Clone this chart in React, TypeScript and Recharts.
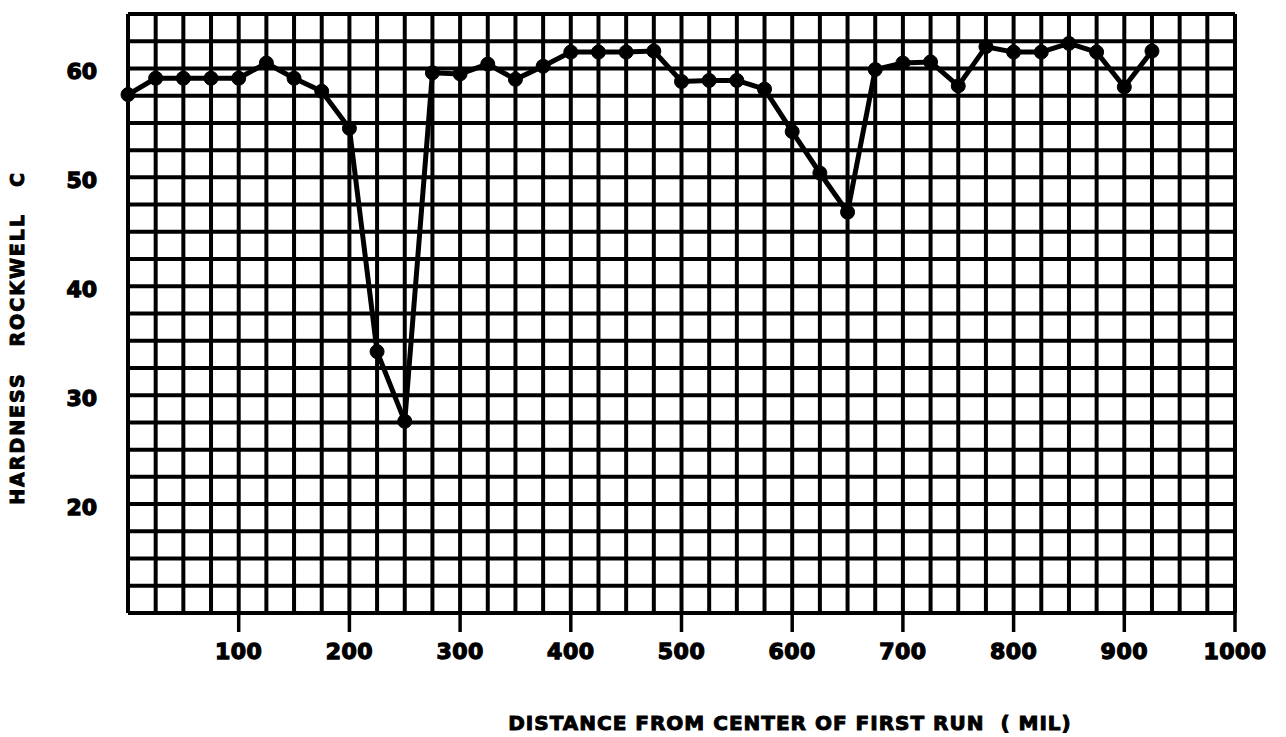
import React from 'react';
import { LineChart, Line, XAxis, YAxis, CartesianGrid, Label } from 'recharts';

const distance = [0, 25, 50, 75, 100, 125, 150, 175, 200, 225, 250, 275, 300, 325, 350, 375, 400, 425, 450, 475, 500, 525, 550, 575, 600, 625, 650, 675, 700, 725, 750, 775, 800, 825, 850, 875, 900, 925];
const hardness = [57.6, 59.1, 59.1, 59.1, 59.1, 60.5, 59.1, 57.9, 54.5, 34.0, 27.6, 59.6, 59.5, 60.4, 59.0, 60.2, 61.5, 61.5, 61.5, 61.6, 58.8, 58.9, 58.9, 58.1, 54.2, 50.4, 46.8, 59.9, 60.5, 60.6, 58.4, 62.0, 61.5, 61.5, 62.3, 61.5, 58.3, 61.6];

const xLabelTicks = [100, 200, 300, 400, 500, 600, 700, 800, 900, 1000];
const yLabelTicks = [20, 30, 40, 50, 60];
const xGridTicks = [0, 25, 50, 75, 100, 125, 150, 175, 200, 225, 250, 275, 300, 325, 350, 375, 400, 425, 450, 475, 500, 525, 550, 575, 600, 625, 650, 675, 700, 725, 750, 775, 800, 825, 850, 875, 900, 925, 950, 975, 1000];
const yGridTicks = [10, 12.5, 15, 17.5, 20, 22.5, 25, 27.5, 30, 32.5, 35, 37.5, 40, 42.5, 45, 47.5, 50, 52.5, 55, 57.5, 60, 62.5, 65];

const xTitle = 'DISTANCE FROM CENTER OF FIRST RUN  ( MIL)';
const yTitle = 'HARDNESS   ROCKWELL   C';

const data = distance.map((d, i) => ({ distance: d, hardness: hardness[i] }));

const FONT = '"DejaVu Sans", "Liberation Sans", sans-serif';

const XTick = (props: any) => {
  const { x, y, payload } = props;
  if (!xLabelTicks.includes(payload.value)) return <g />;
  return (
    <g>
      <line x1={x} x2={x} y1={y} y2={y + 19} stroke="#000" strokeWidth={3.5} />
      <text x={x} y={y + 46} textAnchor="middle" fontFamily={FONT} fontWeight="bold" fontSize={22} letterSpacing={0.5} fill="#000" stroke="#000" strokeWidth={1.3}>
        {payload.value}
      </text>
    </g>
  );
};

const YTick = (props: any) => {
  const { x, y, payload } = props;
  if (!yLabelTicks.includes(payload.value)) return <g />;
  return (
    <text x={x - 31} y={y + 3} dy="0.36em" textAnchor="end" fontFamily={FONT} fontWeight="bold" fontSize={22} fill="#000" stroke="#000" strokeWidth={1.3}>
      {payload.value}
    </text>
  );
};

export default function App() {
  return (
    <div style={{ position: 'absolute', left: 0, top: 0, background: '#fff' }}>
      <LineChart width={1286} height={737} data={data} margin={{ top: 14, right: 51, bottom: 0, left: 0 }}>
        <CartesianGrid stroke="#000" strokeWidth={4} />
        <XAxis
          dataKey="distance"
          type="number"
          domain={[0, 1000]}
          ticks={xGridTicks}
          interval={0}
          height={124}
          axisLine={false}
          tickLine={false}
          tickSize={0}
          tickMargin={0}
          tick={<XTick />}
        >
          <Label
            content={() => (
              <text x={790} y={730} textAnchor="middle" fontFamily={FONT} fontWeight="bold" fontSize={20} letterSpacing={1} fill="#000" stroke="#000" strokeWidth={1} style={{ whiteSpace: 'pre' }}>
                {xTitle}
              </text>
            )}
          />
        </XAxis>
        <YAxis
          type="number"
          domain={[10, 65]}
          ticks={yGridTicks}
          interval={0}
          width={128}
          axisLine={false}
          tickLine={false}
          tickSize={0}
          tickMargin={0}
          tick={<YTick />}
        >
          <Label
            content={() => (
              <text x={24} y={338} transform="rotate(-90 24 338)" textAnchor="middle" fontFamily={FONT} fontWeight="bold" fontSize={19} letterSpacing={2} fill="#000" stroke="#000" strokeWidth={1} style={{ whiteSpace: 'pre' }}>
                {yTitle}
              </text>
            )}
          />
        </YAxis>
        <Line
          type="linear"
          dataKey="hardness"
          stroke="#000"
          strokeWidth={5}
          dot={{ r: 7, fill: '#000', stroke: '#000', strokeWidth: 1 }}
          isAnimationActive={false}
        />
      </LineChart>
    </div>
  );
}
